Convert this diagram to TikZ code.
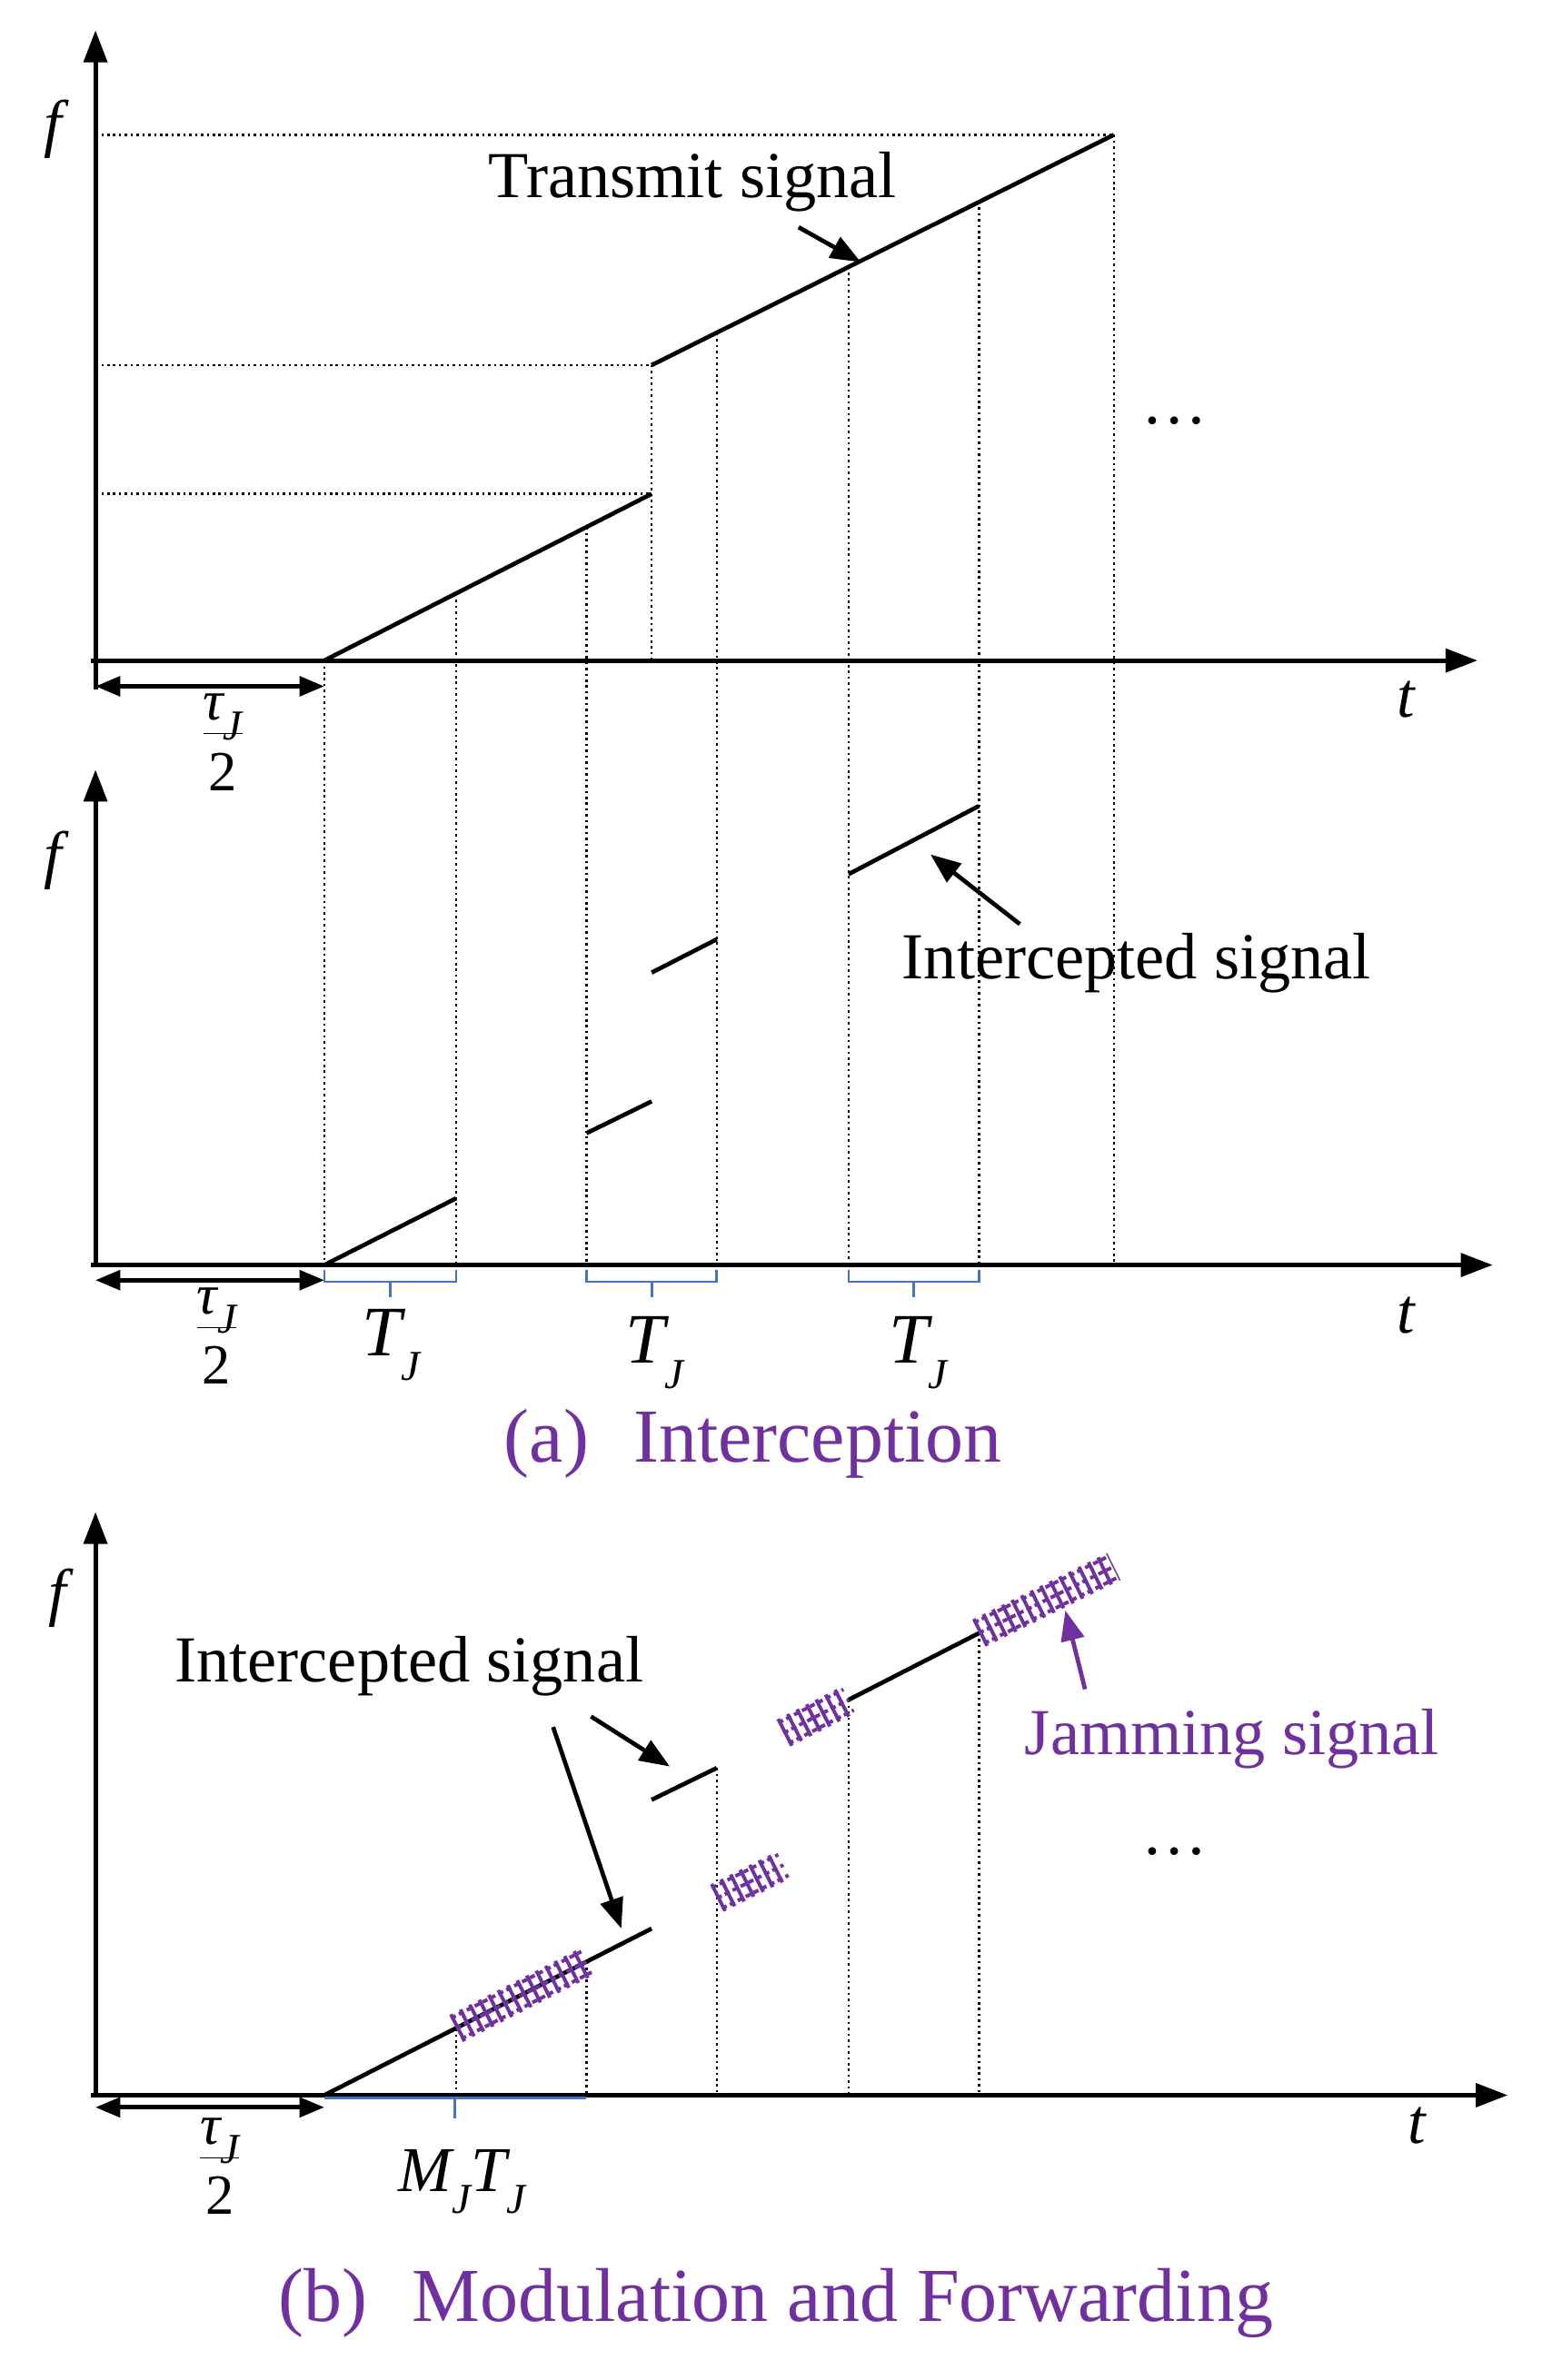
\documentclass[tikz,border=0pt]{standalone}
\usepackage{fontspec}
\setmainfont{Liberation Serif}
\usetikzlibrary{arrows.meta,calc}
\definecolor{pur}{RGB}{112,48,160}
\definecolor{blu}{RGB}{68,114,196}
\newcommand\mysub[2]{{\itshape #1}\raisebox{-0.35em}{\fontsize{24}{26}\selectfont\itshape #2}}
\newcommand\myfrac{\begin{tabular}{@{}c@{}}\mysub{τ}{J}\\[-4pt]\hline\rule{0pt}{1.0em}2\end{tabular}}
\begin{document}
\begin{tikzpicture}[x=0.03cm,y=-0.03cm,
 axis/.style={line width=2.6pt,-{Triangle[length=18pt,width=13pt]}},
 sig/.style={line width=2.4pt},
 dot/.style={line width=1.3pt,dotted},
 arr/.style={line width=2.4pt,-{Triangle[length=17pt,width=13pt]}},
 dbl/.style={line width=2.4pt,{Triangle[length=14pt,width=11pt]}-{Triangle[length=14pt,width=11pt]}},
 lbl/.style={font=\fontsize{37}{40}\selectfont},
 ilbl/.style={font=\itshape\fontsize{36}{40}\selectfont},
 captxt/.style={font=\fontsize{43}{48}\selectfont,text=pur},
 tj/.style={font=\fontsize{40}{44}\selectfont},
 fr/.style={font=\fontsize{32}{36}\selectfont,inner sep=0pt},
 jl/.style={pur,line width=2pt,dash pattern=on 3pt off 2pt},
 jt/.style={pur,line width=17pt,dash pattern=on 2pt off 4pt},
 br/.style={blu,line width=1.4pt}]
\useasboundingbox (0,0) rectangle (1024,1571);
\newcommand\jamseg[2]{%
 \draw[jt] (#1) -- (#2);
 \foreach \s in {-1,0,1}{\draw[jl,shift={(3.4*\s,6.8*\s)}] (#1) -- (#2);}}
\newcommand\brc[3]{\draw[br] (#1,#3) -- (#1,#3+8) -- (#2,#3+8) -- (#2,#3); \draw[br] ({(#1+#2)/2},#3+8) -- ({(#1+#2)/2},#3+18);}
% ---------- panel 1
\coordinate (fy1) at (63,20); \coordinate (tx1) at (975,436);
\draw[axis] (63,455) -- (fy1);
\draw[axis] (60,436) -- (tx1);
\node[ilbl] (f1) at (35,85) {f};
\node[ilbl] (t1) at (928,462) {t};
\draw[dot] (63,89) -- (735,89);
\draw[dot] (63,241) -- (430,241);
\draw[dot] (63,326) -- (430,326);
\draw[dot] (430,241) -- (430,436);
\foreach \x/\y in {214/436,301/392,387/348,473/220,560/176,646/133,735/89}{\draw[dot] (\x,\y) -- (\x,836);}
\coordinate (c1a) at (214,436); \coordinate (c1b) at (430,326);
\coordinate (c2a) at (430,241); \coordinate (c2b) at (735,89);
\draw[sig] (c1a) -- (c1b);
\draw[sig] (c2a) -- (c2b);
\node[lbl] (ts) at (457,120) {Transmit signal};
\coordinate (tsa) at (527,150); \coordinate (tsb) at (568,173);
\draw[arr] (tsa) -- (tsb);
\node[lbl] (dots1) at (775,278) {\dots};
\coordinate (ta1) at (63,453); \coordinate (tb1) at (214,453);
\draw[dbl] (ta1) -- (tb1);
\node[fr] (tau1) at (147,490) {\myfrac};
% ---------- panel 2
\draw[axis] (63,835) -- (63,508);
\draw[axis] (60,835) -- (985,835);
\node[ilbl] (f2) at (35,568) {f};
\node[ilbl] (t2) at (928,868) {t};
\draw[sig] (214,835) -- (301,791);
\draw[sig] (387,748) -- (430,727);
\draw[sig] (430,642) -- (473,620);
\coordinate (i4a) at (560,577); \coordinate (i4b) at (646,532);
\draw[sig] (i4a) -- (i4b);
\coordinate (isa) at (673,610); \coordinate (isb) at (614,564);
\draw[arr] (isa) -- (isb);
\node[lbl] (is) at (750,636) {Intercepted signal};
\draw[dbl] (63,845) -- (214,845);
\node[fr] (tau2) at (143,882) {\myfrac};
\brc{214}{301}{838}\brc{387}{473}{838}\brc{560}{646}{838}
\node[tj] (tj1) at (258,888) {\mysub{T}{J}};
\node[tj] (tj2) at (432,893) {\mysub{T}{J}};
\node[tj] (tj3) at (606,893) {\mysub{T}{J}};
\node[captxt] (capa) at (497,953) {(a)\,\, Interception};
% ---------- panel 3
\draw[axis] (63,1383) -- (63,998);
\draw[axis] (60,1383) -- (995,1383);
\node[ilbl] (f3) at (38,1055) {f};
\node[ilbl] (t3) at (935,1403) {t};
\foreach \x/\y in {301/1339,387/1295,473/1167,560/1122,646/1078}{\draw[dot] (\x,\y) -- (\x,1383);}
\coordinate (s1a) at (214,1383); \coordinate (s1b) at (430,1273);
\coordinate (s2a) at (430,1188); \coordinate (s2b) at (473,1167);
\draw[sig] (s1a) -- (s1b);
\draw[sig] (s2a) -- (s2b);
\draw[sig] (560,1122) -- (646,1078);
\jamseg{301,1339}{387,1295}
\jamseg{473,1253}{517,1231}
\jamseg{517,1144}{560,1122}
\jamseg{646,1078}{735,1034}
\node[lbl] (is3) at (270,1100) {Intercepted signal};
\coordinate (a1s) at (365,1140); \coordinate (a1e) at (410,1273);
\coordinate (a2s) at (390,1133); \coordinate (a2e) at (442,1166);
\draw[arr] (a1s) -- (a1e);
\draw[arr] (a2s) -- (a2e);
\node[lbl,text=pur] (js) at (813,1148) {Jamming signal};
\coordinate (jsa) at (716,1115); \coordinate (jsb) at (703,1063);
\draw[arr,pur] (jsa) -- (jsb);
\node[lbl] (dots3) at (775,1222) {\dots};
\draw[dbl] (63,1391) -- (214,1391);
\node[fr] (tau3) at (145,1430) {\myfrac};
\draw[br] (214,1385) -- (387,1385); \draw[br] (300,1385) -- (300,1398);
\node[tj,font=\fontsize{36}{40}\selectfont] (mt) at (305,1440) {\mysub{M}{J}\mysub{T}{J}};
\node[captxt] (capb) at (512,1520) {(b)\,\, Modulation and Forwarding};
\end{tikzpicture}
\end{document}
